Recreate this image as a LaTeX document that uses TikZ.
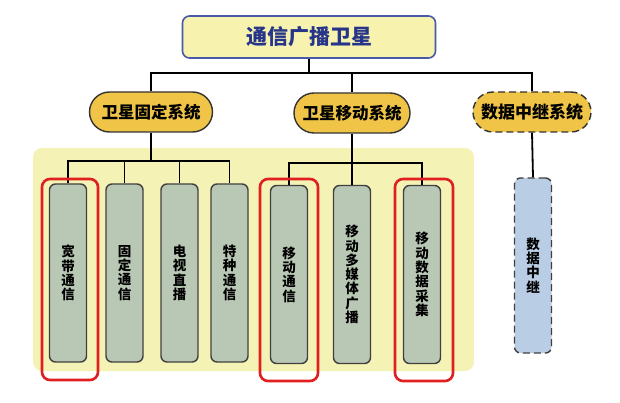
\documentclass[tikz,border=0pt]{standalone}
\usepackage{fontspec}
\setmainfont{Noto Sans CJK SC}
\definecolor{topfill}{HTML}{F7F2AE}
\definecolor{topdraw}{HTML}{4A5AA8}
\definecolor{toptext}{HTML}{26358A}
\definecolor{pillfill}{HTML}{EFC447}
\definecolor{bgyellow}{HTML}{F4F2B4}
\definecolor{boxfill}{HTML}{B9C8B4}
\definecolor{bluefill}{HTML}{B9CDE4}
\definecolor{hl}{HTML}{E02020}
\begin{document}
\begin{tikzpicture}[x=1pt,y=-1pt,
  topbox/.style={draw=topdraw,fill=topfill,line width=1.6pt,rounded corners=7pt,minimum width=253pt,minimum height=42pt,font=\fontsize{21}{23}\selectfont\bfseries,text=toptext},
  pill/.style={draw=black!80,fill=pillfill,line width=1.4pt,rounded corners=20pt,minimum width=120pt,minimum height=40pt,inner xsep=2pt,font=\fontsize{16.5}{18}\selectfont\bfseries},
  leaf/.style={draw=black!75,fill=boxfill,line width=1.4pt,rounded corners=6pt,minimum width=37pt,minimum height=178pt,font=\fontsize{13.5}{14.3}\selectfont\bfseries,align=center,inner sep=0pt},
  conn/.style={line width=1.8pt,black},
  redbox/.style={draw=hl,line width=2.6pt,rounded corners=8pt}]
\useasboundingbox (0,0) rectangle (620,403);
\fill[bgyellow,rounded corners=9pt] (33,148) rectangle (474,371);
\node[topbox] (top) at (309,37) {通信广播卫星};
\node[pill,minimum width=123pt] (p1) at (151,112) {卫星固定系统};
\node[pill,minimum width=116pt] (p2) at (352,113) {卫星移动系统};
\node[pill,dashed,dash pattern=on 7pt off 4pt,minimum width=118pt,font=\fontsize{17}{18}\selectfont\bfseries] (p3) at (532,112) {数据中继系统};
\node[leaf] (b1) at (68,273) {宽\\带\\通\\信};
\node[leaf] (b2) at (124.5,273) {固\\定\\通\\信};
\node[leaf] (b3) at (179.5,273) {电\\视\\直\\播};
\node[leaf] (b4) at (229.5,273) {特\\种\\通\\信};
\node[leaf] (b5) at (289,274.5) {移\\动\\通\\信};
\node[leaf] (b6) at (352,274.5) {移\\动\\多\\媒\\体\\广\\播};
\node[leaf] (b7) at (422,274.5) {移\\动\\数\\据\\采\\集};
\node[leaf,fill=bluefill,dashed,dash pattern=on 7pt off 4pt,minimum height=175pt] (b8) at (533,265.5) {数\\据\\中\\继};
\draw[conn] (top.south) -- ++(0,14) coordinate (j0);
\draw[conn] (p1.north) |- (j0) -| (p3.north);
\draw[conn] (j0) -| (p2.north);
\draw[conn] (p1.south) -- ++(0,28) coordinate (j1);
\draw[conn] (b1.north) |- (j1) -| (b4.north);
\draw[conn] (b2.north) |- (j1);
\draw[conn] (b3.north) |- (j1);
\draw[conn] (p2.south) -- ++(0,29) coordinate (j2);
\draw[conn] (b5.north) |- (j2) -| (b7.north);
\draw[conn] (j2) -- (b6.north);
\draw[conn] (p3.south) -- (b8.north);
\draw[redbox] (42,179) rectangle (98,380);
\draw[redbox] (260,179) rectangle (318,381);
\draw[redbox] (395,179) rectangle (453,381);
\end{tikzpicture}
\end{document}
